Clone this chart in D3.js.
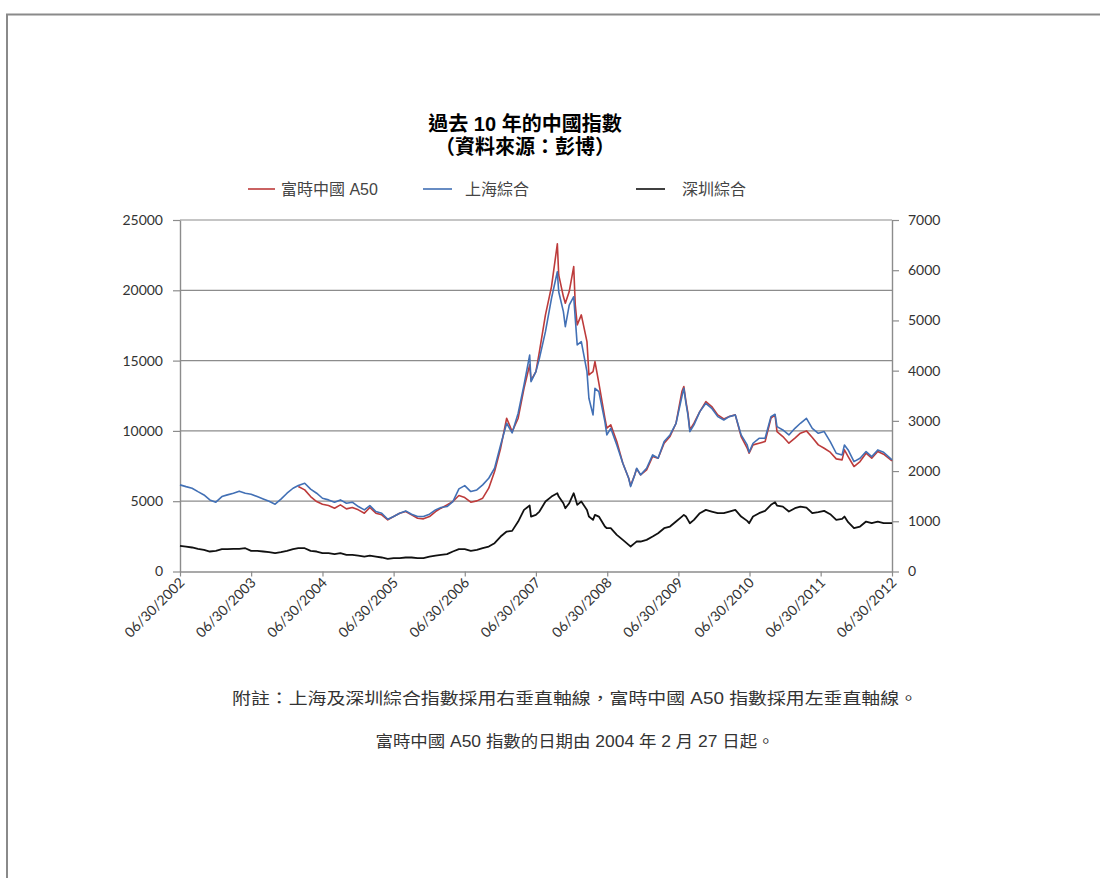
<!DOCTYPE html>
<html>
<head>
<meta charset="utf-8">
<script src="https://cdn.jsdelivr.net/npm/d3@7"></script>
<style>
body { margin: 0; background: #fff; }
svg { display: block; }
</style>
</head>
<body>
<svg id="chart" width="1100" height="878"></svg>
<script>
// 取樣日期（月度，波動大的時段加密）
const dates = [
    "2002-06-30", "2002-07-31", "2002-08-31", "2002-09-30", "2002-10-31", "2002-11-30", "2002-12-31",
    "2003-01-31", "2003-02-28", "2003-03-31", "2003-04-30", "2003-05-31", "2003-06-30", "2003-07-31", "2003-08-31", "2003-09-30", "2003-10-31", "2003-11-30", "2003-12-31",
    "2004-01-31", "2004-02-27", "2004-03-31", "2004-04-30", "2004-05-31", "2004-06-30", "2004-07-31", "2004-08-31", "2004-09-30", "2004-10-31", "2004-11-30", "2004-12-31",
    "2005-01-31", "2005-02-28", "2005-03-31", "2005-04-30", "2005-05-31", "2005-06-30", "2005-07-31", "2005-08-31", "2005-09-30", "2005-10-31", "2005-11-30", "2005-12-31",
    "2006-01-31", "2006-02-28", "2006-03-31", "2006-04-30", "2006-05-31", "2006-06-30", "2006-07-31", "2006-08-31", "2006-09-30", "2006-10-31", "2006-11-30", "2006-12-31",
    "2007-01-31", "2007-02-28", "2007-03-31", "2007-04-30", "2007-05-29", "2007-06-05", "2007-06-30", "2007-07-18", "2007-08-18", "2007-09-18", "2007-10-18", "2007-10-25", "2007-11-18", "2007-11-28", "2007-12-18",
    "2008-01-10", "2008-01-18", "2008-01-28", "2008-02-18", "2008-03-18", "2008-03-28", "2008-04-18", "2008-04-28", "2008-05-18", "2008-06-18", "2008-06-28", "2008-07-18", "2008-08-18", "2008-09-18", "2008-10-18", "2008-10-28", "2008-11-18", "2008-11-28", "2008-12-18",
    "2009-01-18", "2009-02-18", "2009-03-18", "2009-04-18", "2009-05-18", "2009-06-18", "2009-07-18", "2009-07-28", "2009-08-08", "2009-08-18", "2009-08-28", "2009-09-18", "2009-10-18", "2009-11-18", "2009-12-18",
    "2010-01-18", "2010-02-18", "2010-03-18", "2010-04-18", "2010-05-18", "2010-06-18", "2010-06-28", "2010-07-18", "2010-08-18", "2010-09-18", "2010-10-18", "2010-11-08", "2010-11-18", "2010-12-18",
    "2011-01-18", "2011-02-18", "2011-03-18", "2011-04-18", "2011-05-18", "2011-06-18", "2011-07-18", "2011-08-18", "2011-09-18", "2011-10-18", "2011-10-30", "2011-11-18", "2011-12-18",
    "2012-01-18", "2012-02-18", "2012-03-18", "2012-04-18", "2012-05-18", "2012-06-30"
];

// 富時中國 A50（左軸），2004-02-27 起
const a50 = [
    null, null, null, null, null, null, null,
    null, null, null, null, null, null, null, null, null, null, null, null,
    null, 6044, 5807, 5333, 4977, 4787, 4693, 4503, 4740, 4456, 4550, 4385,
    4148, 4550, 4148, 4029, 3674, 3911, 4148, 4266, 4029, 3792, 3745, 3911,
    4266, 4503, 4740, 4977, 5404, 5261, 4930, 5024, 5214, 5925, 7110, 8769,
    10902, 9954, 10902, 13035, 14700, 13600, 14220, 15642, 18249, 20264, 23300, 21093, 19553, 19079, 19908,
    21686, 18960, 17538, 18249, 16353, 13983, 14220, 14931, 13391, 10902, 10191, 10428, 9243, 7703, 6636, 6115, 6873, 7300, 6873,
    7229, 8177, 8058, 9125, 9599, 10547, 12798, 13154, 12087, 11258, 10073, 10547, 11376, 12087, 11732,
    11139, 10855, 11021, 11139, 9599, 8769, 8414, 9006, 9125, 9243, 10902, 11139, 9954, 9599,
    9125, 9480, 9836, 10001, 9527, 9006, 8769, 8485, 8010, 7940, 8651, 8177, 7466,
    7821, 8414, 8058, 8532, 8342, 7868
];

// 上海綜合（右軸）
const shanghai = [
    1725, 1690, 1658, 1590, 1525, 1426, 1380,
    1492, 1526, 1560, 1600, 1560, 1539, 1492, 1446, 1400, 1340, 1440, 1559,
    1658, 1711, 1758, 1640, 1559, 1459, 1426, 1380, 1426, 1360, 1380, 1293,
    1227, 1313, 1194, 1161, 1040, 1094, 1161, 1207, 1141, 1094, 1094, 1141,
    1227, 1274, 1293, 1393, 1645, 1711, 1592, 1625, 1725, 1857, 2056, 2520,
    2952, 2760, 3151, 3714, 4311, 3781, 3980, 4245, 4776, 5439, 5970, 5572, 5174, 4875, 5306,
    5472, 5041, 4511, 4577, 3980, 3449, 3118, 3648, 3582, 2985, 2720, 2852, 2520, 2156, 1857, 1691, 1924, 2056, 1924,
    2056, 2322, 2255, 2587, 2720, 2952, 3482, 3648, 3350, 3118, 2786, 2919, 3184, 3350, 3250,
    3084, 3018, 3084, 3118, 2720, 2520, 2375, 2554, 2653, 2653, 3084, 3131, 2885, 2819,
    2720, 2852, 2952, 3051, 2852, 2753, 2786, 2587, 2355, 2322, 2520, 2421, 2189,
    2255, 2388, 2288, 2421, 2375, 2222
];

// 深圳綜合（右軸）
const shenzhen = [
    511, 497, 478, 451, 431, 398, 411,
    444, 444, 451, 451, 464, 411, 411, 398, 385, 365, 385, 411,
    444, 464, 464, 411, 398, 365, 365, 345, 365, 332, 332, 318,
    298, 318, 298, 279, 252, 265, 265, 279, 279, 265, 265, 298,
    318, 332, 345, 398, 444, 444, 411, 431, 464, 497, 564, 696,
    796, 809, 995, 1227, 1313, 1094, 1128, 1194, 1393, 1492, 1559, 1492, 1360, 1260, 1360,
    1559, 1459, 1327, 1393, 1227, 1094, 1028, 1128, 1094, 895, 862, 862, 730, 630, 531, 497, 564, 597, 597,
    630, 696, 763, 862, 895, 995, 1094, 1128, 1094, 1028, 962, 1028, 1161, 1227, 1194,
    1161, 1161, 1194, 1227, 1094, 1008, 962, 1094, 1161, 1207, 1327, 1380, 1313, 1293,
    1194, 1260, 1293, 1274, 1161, 1181, 1207, 1141, 1028, 1048, 1094, 982, 862,
    895, 995, 962, 995, 962, 962
];

const leftTicks = [0, 5000, 10000, 15000, 20000, 25000];
const rightTicks = [0, 1000, 2000, 3000, 4000, 5000, 6000, 7000];
const xTickLabels = ["06/30/2002", "06/30/2003", "06/30/2004", "06/30/2005", "06/30/2006",
    "06/30/2007", "06/30/2008", "06/30/2009", "06/30/2010", "06/30/2011", "06/30/2012"];

const seriesNames = ["富時中國 A50", "上海綜合", "深圳綜合"];
const titleLines = ["過去 10 年的中國指數", "（資料來源：彭博）"];
const notes = ["附註：上海及深圳綜合指數採用右垂直軸線，富時中國 A50 指數採用左垂直軸線。",
    "富時中國 A50 指數的日期由 2004 年 2 月 27 日起。"];

// 版面
const plot = {left: 180, right: 892, top: 220, bottom: 571.5};
const colors = {a50: "#bd3b3b", sh: "#4270b5", sz: "#111"};
const tickFont = "Lato, 'Open Sans', sans-serif";
const cjkFont = "'Liberation Sans', 'Noto Sans CJK TC', sans-serif";

let svg = d3.select("#chart");

// 外框
svg.append("path")
    .attr("d", "M7,1100 V14.5 H1200")
    .attr("fill", "none")
    .attr("stroke", "#8a8a8a")
    .attr("stroke-width", 2);

let parseDate = d3.timeParse("%Y-%m-%d");
let parseTick = d3.timeParse("%m/%d/%Y");
let dateObjs = dates.map(parseDate);
let xTicks = xTickLabels.map(parseTick);

let x = d3.scaleTime()
    .domain([xTicks[0], xTicks[xTicks.length - 1]])
    .range([plot.left, plot.right]);
let yLeft = d3.scaleLinear().domain([0, 25000]).range([plot.bottom, plot.top]);
let yRight = d3.scaleLinear().domain([0, 7000]).range([plot.bottom, plot.top]);

// 網格線
svg.append("g")
    .selectAll("line")
    .data(leftTicks.slice(1))
    .enter()
    .append("line")
    .attr("x1", plot.left).attr("x2", plot.right)
    .attr("y1", d => yLeft(d)).attr("y2", d => yLeft(d))
    .attr("stroke", "#8c8c8c")
    .attr("stroke-width", 1.2);

// 軸
let styleAxis = function (g) {
    g.selectAll(".domain").attr("stroke", "#8c8c8c").attr("stroke-width", 1.4);
    g.selectAll(".tick line").attr("stroke", "#8c8c8c").attr("stroke-width", 1.2);
    g.selectAll("text").attr("fill", "#333").style("font-family", tickFont).style("font-size", "14px");
};

svg.append("g")
    .attr("transform", "translate(" + plot.left + ",0)")
    .call(d3.axisLeft(yLeft).tickValues(leftTicks).tickFormat(d3.format("d"))
        .tickSize(7).tickPadding(10).tickSizeOuter(0))
    .call(styleAxis);

svg.append("g")
    .attr("transform", "translate(" + plot.right + ",0)")
    .call(d3.axisRight(yRight).tickValues(rightTicks).tickFormat(d3.format("d"))
        .tickSize(7).tickPadding(9).tickSizeOuter(0))
    .call(styleAxis);

let xAxis = svg.append("g")
    .attr("transform", "translate(0," + plot.bottom + ")")
    .call(d3.axisBottom(x).tickValues(xTicks).tickSize(5).tickSizeOuter(0)
        .tickFormat((d, i) => xTickLabels[i]))
    .call(styleAxis);

xAxis.selectAll("text")
    .attr("text-anchor", "end")
    .attr("dy", 0)
    .attr("y", 0)
    .attr("transform", "translate(5,12) rotate(-45)");

// 折線
let drawLine = function (values, scale, color, width) {
    let line = d3.line()
        .defined((d, i) => values[i] != null)
        .x((d, i) => x(dateObjs[i]))
        .y((d, i) => scale(values[i]));
    svg.append("path")
        .datum(values)
        .attr("fill", "none")
        .attr("stroke", color)
        .attr("stroke-width", width)
        .attr("stroke-linejoin", "round")
        .attr("d", line);
};

drawLine(a50, yLeft, colors.a50, 1.6);
drawLine(shanghai, yRight, colors.sh, 1.6);
drawLine(shenzhen, yRight, colors.sz, 1.8);

// 標題
svg.selectAll(".title")
    .data(titleLines)
    .enter()
    .append("text")
    .attr("class", "title")
    .attr("x", 525)
    .attr("y", (d, i) => 131 + i * 23)
    .attr("text-anchor", "middle")
    .style("font-family", cjkFont)
    .style("font-weight", "bold")
    .style("font-size", "20px")
    .attr("fill", "#000")
    .text(d => d);

// 圖例
let legendItems = [
    {name: seriesNames[0], color: colors.a50, x1: 248, x2: 275, tx: 281},
    {name: seriesNames[1], color: colors.sh, x1: 423, x2: 452, tx: 465},
    {name: seriesNames[2], color: colors.sz, x1: 636, x2: 665, tx: 682}
];
let legend = svg.append("g");
legend.selectAll("line")
    .data(legendItems)
    .enter()
    .append("line")
    .attr("x1", d => d.x1).attr("x2", d => d.x2)
    .attr("y1", 189).attr("y2", 189)
    .attr("stroke", d => d.color)
    .attr("stroke-width", 1.6);
legend.selectAll("text")
    .data(legendItems)
    .enter()
    .append("text")
    .attr("x", d => d.tx)
    .attr("y", 195)
    .style("font-family", cjkFont)
    .style("font-size", "16px")
    .attr("fill", "#444")
    .text(d => d.name);

// 附註
svg.selectAll(".note")
    .data(notes)
    .enter()
    .append("text")
    .attr("class", "note")
    .attr("x", 575)
    .attr("y", (d, i) => 704 + i * 43)
    .attr("text-anchor", "middle")
    .attr("textLength", (d, i) => i === 0 ? 686 : 399)
    .attr("lengthAdjust", "spacingAndGlyphs")
    .style("font-family", cjkFont)
    .style("font-size", "16px")
    .attr("fill", "#333")
    .text(d => d);
</script>
</body>
</html>
